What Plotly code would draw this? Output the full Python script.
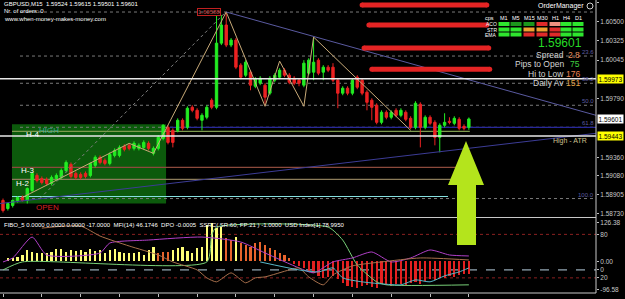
import plotly.graph_objects as go

W, H = 625, 299
FONT = "Liberation Sans, Arial, sans-serif"
BULL = "#22ec22"
BEAR = "#ec2222"

# ---------------- candles (GBPUSD, M15) ----------------
candle_open = [1.58849, 1.58775, 1.58803, 1.58849, 1.58877, 1.58849, 1.58941, 1.59080, 1.59052, 1.59043,
               1.59006, 1.59052, 1.59062, 1.59126, 1.59182, 1.59099, 1.59089, 1.59099, 1.59080, 1.59173,
               1.59247, 1.59219, 1.59191, 1.59265, 1.59265, 1.59348, 1.59358, 1.59330, 1.59330, 1.59339,
               1.59376, 1.59284, 1.59330, 1.59422, 1.59524, 1.59496, 1.59496, 1.59589, 1.59524, 1.59709,
               1.59681, 1.59589, 1.59617, 1.59774, 1.59709, 1.60301, 1.60468, 1.60283, 1.60329, 1.60098,
               1.60005, 1.60033, 1.59903, 1.59931, 1.59913, 1.59839, 1.59959, 1.59987, 1.60051, 1.60005,
               1.59977, 1.59959, 1.59913, 1.60024, 1.60033, 1.60144, 1.60033, 1.60079, 1.60079, 1.59959,
               1.59839, 1.59885, 1.59839, 1.59987, 1.59959, 1.59848, 1.59774, 1.59728, 1.59570, 1.59663,
               1.59617, 1.59681, 1.59635, 1.59663, 1.59607, 1.59524, 1.59737, 1.59524, 1.59617, 1.59570,
               1.59432, 1.59543, 1.59580, 1.59561, 1.59598, 1.59533, 1.59524]
candle_high = [1.58867, 1.58830, 1.58858, 1.58886, 1.58895, 1.58969, 1.59108, 1.59099, 1.59071, 1.59062,
               1.59080, 1.59099, 1.59145, 1.59219, 1.59200, 1.59117, 1.59108, 1.59117, 1.59200, 1.59265,
               1.59265, 1.59237, 1.59293, 1.59330, 1.59358, 1.59367, 1.59376, 1.59395, 1.59376, 1.59404,
               1.59395, 1.59348, 1.59450, 1.59552, 1.59543, 1.59515, 1.59607, 1.59607, 1.59718, 1.59728,
               1.59700, 1.59654, 1.59728, 1.59792, 1.60560, 1.60560, 1.60588, 1.60348, 1.60348, 1.60116,
               1.60144, 1.60051, 1.59987, 1.59996, 1.59931, 1.59996, 1.60024, 1.60070, 1.60070, 1.60024,
               1.59996, 1.59977, 1.60144, 1.60162, 1.60357, 1.60162, 1.60098, 1.60098, 1.60116, 1.59977,
               1.59903, 1.59903, 1.59977, 1.60005, 1.59977, 1.59866, 1.59792, 1.59746, 1.59681, 1.59681,
               1.59681, 1.59700, 1.59700, 1.59681, 1.59626, 1.59765, 1.59755, 1.59635, 1.59635, 1.59589,
               1.59561, 1.59654, 1.59617, 1.59626, 1.59617, 1.59552, 1.59615]
candle_low = [1.58738, 1.58756, 1.58784, 1.58830, 1.58840, 1.58821, 1.58923, 1.59015, 1.58997, 1.58988,
              1.58988, 1.59034, 1.59043, 1.59108, 1.59052, 1.59043, 1.59043, 1.59052, 1.59062, 1.59154,
              1.59182, 1.59173, 1.59173, 1.59247, 1.59247, 1.59302, 1.59311, 1.59311, 1.59311, 1.59321,
              1.59311, 1.59265, 1.59311, 1.59404, 1.59367, 1.59339, 1.59478, 1.59496, 1.59506, 1.59663,
              1.59589, 1.59496, 1.59598, 1.59691, 1.59691, 1.60283, 1.60264, 1.60264, 1.60061, 1.59968,
              1.59987, 1.59866, 1.59885, 1.59913, 1.59728, 1.59820, 1.59940, 1.59968, 1.59987, 1.59922,
              1.59913, 1.59903, 1.59894, 1.60005, 1.59959, 1.60005, 1.59959, 1.60033, 1.59940, 1.59700,
              1.59820, 1.59820, 1.59820, 1.59876, 1.59820, 1.59681, 1.59589, 1.59552, 1.59552, 1.59598,
              1.59598, 1.59617, 1.59617, 1.59580, 1.59506, 1.59506, 1.59339, 1.59506, 1.59543, 1.59358,
              1.59293, 1.59524, 1.59552, 1.59543, 1.59496, 1.59496, 1.59501]
candle_close = [1.58756, 1.58821, 1.58849, 1.58877, 1.58849, 1.58960, 1.59099, 1.59034, 1.59015, 1.59006,
                1.59062, 1.59080, 1.59126, 1.59200, 1.59071, 1.59062, 1.59062, 1.59071, 1.59191, 1.59247,
                1.59200, 1.59191, 1.59274, 1.59311, 1.59339, 1.59321, 1.59330, 1.59376, 1.59358, 1.59385,
                1.59330, 1.59330, 1.59432, 1.59543, 1.59385, 1.59385, 1.59589, 1.59515, 1.59700, 1.59681,
                1.59607, 1.59635, 1.59709, 1.59709, 1.60301, 1.60468, 1.60283, 1.60329, 1.60079, 1.59987,
                1.60125, 1.59913, 1.59968, 1.59977, 1.59802, 1.59977, 1.60005, 1.60051, 1.60005, 1.59940,
                1.59931, 1.59931, 1.60116, 1.60144, 1.60125, 1.60024, 1.60079, 1.60051, 1.59959, 1.59839,
                1.59885, 1.59839, 1.59959, 1.59894, 1.59839, 1.59755, 1.59709, 1.59570, 1.59663, 1.59617,
                1.59663, 1.59635, 1.59681, 1.59598, 1.59524, 1.59746, 1.59524, 1.59617, 1.59561, 1.59432,
                1.59543, 1.59570, 1.59570, 1.59607, 1.59515, 1.59515, 1.59601]
candle_idx = list(range(len(candle_open)))

# ---------------- axes labels ----------------
price_range = [1.58692, 1.60699]
x_range = [-0.62, 122.2]
price_tick_vals = [1.60675, 1.60500, 1.60325, 1.60144, 1.59790, 1.59247, 1.59080, 1.58905, 1.58730]
price_tick_text = ["1.60675", "1.60500", "1.60325", "1.60045", "1.59790", "1.59360", "1.59080", "1.58905", "1.58730"]
marked_prices = [1.59973, 1.59601, 1.59443]
marked_bg = ["#ffff00", "#ffffff", "#ffff00"]
time_tick_idx = [0, 8, 16, 24, 32, 40, 48, 56, 64, 72, 80, 88, 96]
time_tick_text = ["18 Jul 2014", "18 Jul 02:00", "18 Jul 04:00", "18 Jul 06:00", "18 Jul 08:00",
                  "18 Jul 10:00", "18 Jul 12:00", "18 Jul 14:00", "18 Jul 16:00", "18 Jul 18:00",
                  "18 Jul 20:00", "18 Jul 22:00", "21 Jul 00:00"]
ind_range = [-96.58, 126.38]
ind_tick_vals = [115, 80, -3, -27, -51, -87]
ind_tick_text = ["126.38", "80", "0.00", "0", "20", "-96.58"]

# ---------------- drawn objects ----------------
fib_high, fib_low = 1.60588, 1.58867
fib_levels = [0.0, 23.6, 38.2, 50.0, 61.8, 100.0]
fib_start_idx = 3.5
fib_diag_idx = [7.6, 45.9]

zigzag_idx = [4, 26, 31, 46, 54, 57, 62, 64, 84]
zigzag_price = [1.58877, 1.59376, 1.59284, 1.60588, 1.59718, 1.60135, 1.59718, 1.60357, 1.59496]

down_trend_idx = [46, 122.2]
down_trend_price = [1.60588, 1.59635]
up_trend_idx = [-0.62, 122.2]
up_trend_price = [1.58821, 1.59469]

session_idx = [1.85, 33.6]
session_high, session_low = 1.59552, 1.58821

white_levels = [1.59973, 1.59443]
level_names = ["HIGH", "H-3", "H-2", "OPEN"]
level_price = [1.59487, 1.59154, 1.59043, 1.58886]
level_end_idx = [96.2, 93.5, 93.5, 91.7]
level_color = ["#7d9a4e", "#8c4a3c", "#8c7c5a", "#86e0e0"]
blue_level_price = 1.59524
blue_level_idx = [34.4, 122.2]

red_bar_price = [1.60653, 1.60468, 1.60255, 1.60061]
red_bar_from = [74.0, 75.4, 74.4, 76.0]
red_bar_to = [99.7, 99.7, 100.1, 100.3]

# ---------------- indicator window ----------------
hist_idx = list(range(1, 97))
hist_vals = [8, 8, 13, 18, 33, 28, 25, 25, 23, 28,
             36, 35, 28, 33, 31, 33, 28, 36, 30, 33,
             25, 33, 36, 28, 25, 25, 23, 28, 18, 33,
             41, 23, 28, 28, 33, 38, 43, 30, 23, 38,
             43, 108, 113, 98, 103, 68, 63, 73, 53, 48,
             43, 53, 58, 48, 38, 33, 23, 18, 8,
             -10, -15, -20, -30, -35, -45, -50, -48, -45, -55,
             -65, -75, -78, -80, -75, -72, -78, -80, -70, -72,
             -75, -70, -68, -72, -65, -62, -70, -60, -55, -58,
             -52, -50, -45, -48, -42, -40, -38]
hist_codes = "Y" * 31 + "OOO" + "Y" * 11 + "OO" + "Y" + "O" * 11 + "R" * 37
hist_palette = {"Y": "#ffff78", "O": "#e8642c", "R": "#e42020"}

green_idx = [0, 4, 42, 43, 44, 67, 70, 73, 77, 79, 96]
green_val = [-27, -3, -3, 78, 102, 102, 63, -12, -63, -72, -72]
magenta_idx = [0, 2, 6, 9, 20, 22, 30, 41, 49, 54, 61, 64, 68, 72, 76, 80, 84, 88, 92, 96]
magenta_val = [-3, 9, 72, 18, 24, 54, 63, 72, 57, 24, -21, -36, -3, 9, 27, -3, 9, 33, 18, 15]
brown_idx = [8, 16, 20, 26, 32, 35, 40, 42, 44, 47, 50, 52, 54, 59, 61, 63, 66, 68, 72, 78, 86, 96]
brown_val = [99, 105, 75, 45, 18, -3, -27, -51, -63, -36, -66, -51, -48, -27, -21, -48, -72, -42, -15, -3, 9, 3]
cyan_idx = [53, 61, 65, 68, 70, 74, 78, 82, 85, 88, 91, 94, 96]
cyan_val = [-3, -27, -33, -21, -51, -63, -69, -72, -57, -63, -45, -33, -21]

# ---------------- order manager panel ----------------
tf_cols = ["M1", "M5", "M15", "M30", "H1", "H4", "D1"]
sig_rows = ["ACO", "STR", "EMA"]
sig_cells = [["G", "g", "g", "R", "P", "G", "G"],
             ["G", "G", "O", "O", "R", "G", "G"],
             ["G", "G", "R", "R", "R", "G", "G"]]
sig_palette = {"G": "#2ee62e", "g": "#1c961c", "R": "#e02a2a", "P": "#f09080", "O": "#f0a030"}
bid_text = "1.59601"
info_labels = ["Spread", "Pips to Open", "Hi to Low", "Daily Av"]
info_values = ["2.8", "75", "176", "151"]
info_colors = ["#e89060", "#40d040", "#e88050", "#e0a040"]


def px(x):
    return x / W


def py(y):
    return 1 - y / H


fig = go.Figure()

fig.add_trace(go.Candlestick(
    x=candle_idx, open=candle_open, high=candle_high, low=candle_low, close=candle_close,
    increasing=dict(line=dict(color=BULL, width=1), fillcolor=BULL),
    decreasing=dict(line=dict(color=BEAR, width=1), fillcolor=BEAR),
    whiskerwidth=0, hoverinfo="skip", xaxis="x", yaxis="y"))

# zigzag and trend lines
fig.add_trace(go.Scatter(x=zigzag_idx, y=zigzag_price, mode="lines",
                         line=dict(color="#c8aa78", width=1), yaxis="y", hoverinfo="skip"))
fig.add_trace(go.Scatter(x=down_trend_idx, y=down_trend_price, mode="lines",
                         line=dict(color="#5a5aa0", width=1), yaxis="y", hoverinfo="skip"))
fig.add_trace(go.Scatter(x=up_trend_idx, y=up_trend_price, mode="lines",
                         line=dict(color="#3c3c96", width=1), yaxis="y", hoverinfo="skip"))
fig.add_trace(go.Scatter(x=fib_diag_idx, y=[fib_low, fib_high], mode="lines",
                         line=dict(color="#808080", width=1, dash="dot"), yaxis="y", hoverinfo="skip"))

# thick red bars
for p, a, b in zip(red_bar_price, red_bar_from, red_bar_to):
    fig.add_trace(go.Scatter(x=[a, b], y=[p, p], mode="lines+markers",
                             line=dict(color="#e42424", width=5),
                             marker=dict(color="#e42424", size=5), yaxis="y", hoverinfo="skip"))

# indicator histogram and lines
fig.add_trace(go.Bar(x=hist_idx, y=hist_vals, width=0.45,
                     marker=dict(color=[hist_palette[c] for c in hist_codes], line_width=0),
                     yaxis="y2", hoverinfo="skip"))
for xs, ys, col in [(green_idx, green_val, "#78d078"), (magenta_idx, magenta_val, "#b040c8"),
                    (brown_idx, brown_val, "#a8704c"), (cyan_idx, cyan_val, "#58b8c8")]:
    fig.add_trace(go.Scatter(x=xs, y=ys, mode="lines", line=dict(color=col, width=1, shape="spline", smoothing=0.6),
                             yaxis="y2", hoverinfo="skip"))

shapes = []
# session box
shapes.append(dict(type="rect", xref="x", yref="y", x0=session_idx[0], x1=session_idx[1],
                   y0=session_low, y1=session_high, fillcolor="#0c5a0c", line_width=0, layer="below"))
# fib dotted levels
for lev in fib_levels:
    p = fib_high - (fib_high - fib_low) * lev / 100
    shapes.append(dict(type="line", xref="x", yref="y", x0=fib_start_idx, x1=x_range[1], y0=p, y1=p,
                       line=dict(color="#7a7a7a", width=1, dash="dot"), layer="below"))
# pivot levels
for p, e, c in zip(level_price, level_end_idx, level_color):
    shapes.append(dict(type="line", xref="x", yref="y", x0=session_idx[0], x1=e, y0=p, y1=p,
                       line=dict(color=c, width=1.2), layer="below"))
shapes.append(dict(type="line", xref="x", yref="y", x0=blue_level_idx[0], x1=blue_level_idx[1],
                   y0=blue_level_price, y1=blue_level_price, line=dict(color="#28289a", width=1.2), layer="below"))
for p in white_levels:
    shapes.append(dict(type="line", xref="x", yref="y", x0=x_range[0], x1=x_range[1], y0=p, y1=p,
                       line=dict(color="#e8e8e8", width=1.5)))
# indicator levels
for v, c, d in [(80, "#8a2020", "dot"), (-51, "#8a2020", "dot"), (-27, "#b8d0e0", "dash")]:
    shapes.append(dict(type="line", xref="x", yref="y2", x0=x_range[0], x1=x_range[1], y0=v, y1=v,
                       line=dict(color=c, width=1, dash=d), layer="below"))
# frame
shapes.append(dict(type="line", xref="paper", yref="paper", x0=px(596), x1=px(596), y0=py(293), y1=1,
                   line=dict(color="#c8c8c8", width=1)))
for yy in [217.5, 293]:
    shapes.append(dict(type="line", xref="paper", yref="paper", x0=0, x1=px(596), y0=py(yy), y1=py(yy),
                       line=dict(color="#c8c8c8", width=1)))
# big arrow
arrow = [(466, 141), (484, 185), (476, 185), (476, 245), (457, 245), (457, 185), (448, 185)]
path = "M " + " L ".join(f"{px(a):.4f},{py(b):.4f}" for a, b in arrow) + " Z"
shapes.append(dict(type="path", xref="paper", yref="paper", path=path, fillcolor="#b4e41c", line_width=0))
# signal table cells
col_x = [504, 516, 529, 542, 555, 566, 578]
row_y = [24, 29.5, 34.5]
for r, row in enumerate(sig_cells):
    for c, code in enumerate(row):
        shapes.append(dict(type="rect", xref="paper", yref="paper",
                           x0=px(col_x[c] - 5.5), x1=px(col_x[c] + 5.5),
                           y0=py(row_y[r] + 2), y1=py(row_y[r] - 2),
                           fillcolor=sig_palette[code], line_width=0))
# order manager icon
shapes.append(dict(type="circle", xref="paper", yref="paper", x0=px(587), x1=px(593), y0=py(9), y1=py(3),
                   line=dict(color="#d0d0d0", width=1)))

ann = []


def text(t, x, y, size=6, color="#ffffff", xanchor="left", yanchor="middle", xref="paper", yref="paper", **kw):
    ann.append(dict(text=t, x=px(x) if xref == "paper" else x, y=py(y) if yref == "paper" else y,
                    xref=xref, yref=yref, xanchor=xanchor, yanchor=yanchor, showarrow=False,
                    font=dict(family=FONT, size=size, color=color), borderpad=0, **kw))


NB = "\u00a0"
text("GBPUSD,M15" + NB * 2 + "1.59524 1.59615 1.59501 1.59601", 3, 4.5)
text("Nr. of orders: 0", 3, 11.5)
text("www.when-money-makes-money.com", 3, 19)
text("FIBO_5 0.0000 0.0000 0.0000 -17.0000" + NB * 2 + "MFI(14) 46.1746" + NB * 2 + "DPO -0.0005" + NB * 2 +
     "SSRC( SR:60, FP:21 ) -1.0000" + NB * 2 + "USD Index[1] 78.9950", 3, 224.5)

# fib labels
for lev in fib_levels[1:]:
    p = fib_high - (fib_high - fib_low) * lev / 100
    ann.append(dict(text=f"{lev:.1f}", x=px(595), y=p, xref="paper", yref="y", xanchor="right", yanchor="bottom",
                    showarrow=False, font=dict(family=FONT, size=6, color="#5c5ca0"), borderpad=0))

# level labels
text("HIGH", 38, 131, size=8, color="#3aa898")
text("H-4", 25, 134.5, size=8)
text("H-3", 20, 171, size=8)
text("H-2", 15, 183, size=8)
text("OPEN", 35, 207.5, size=8, color="#d82020")
text("High - ATR", 588, 141, size=7, color="#d0c090", xanchor="right")
text("1.60588", 209, 12, size=6, color="#d04040", xanchor="center", bordercolor="#c02020", borderwidth=1)

# panel
text("OrderManager", 585, 6, size=7, xanchor="right")
text("cps", 489, 18.5, size=5.5, xanchor="center")
for c, name in enumerate(tf_cols):
    text(name, col_x[c], 18.5, size=5.5, xanchor="center")
for r, name in enumerate(sig_rows):
    text(name, 498, row_y[r], size=5, xanchor="right")
text(bid_text, 583, 42.5, size=12, color="#26dc26", xanchor="right")
for k, (lab, val, col) in enumerate(zip(info_labels, info_values, info_colors)):
    yy = 55 + k * 9.4
    text(lab, 565, yy, size=8.5, color="#d4d4d4", xanchor="right")
    text(val, 581, yy, size=8.5, color=col, xanchor="right")

# price markers on the axis
for p, bg in zip(marked_prices, marked_bg):
    ann.append(dict(text=f"{p:.5f}", x=px(597), y=p, xref="paper", yref="y", xanchor="left", yanchor="middle",
                    showarrow=False, bgcolor=bg, font=dict(family=FONT, size=6.5, color="#000000"), borderpad=0.5))

axis_font = dict(family=FONT, size=6.5, color="#c8c8c8")
fig.update_layout(
    width=W, height=H, margin=dict(l=0, r=0, t=0, b=0, pad=0, autoexpand=False),
    paper_bgcolor="#000000", plot_bgcolor="#000000", showlegend=False,
    boxgap=0.3, bargap=0,
    xaxis=dict(domain=[0, px(596)], range=x_range, anchor="y2", showgrid=False, zeroline=False,
               showline=False, rangeslider=dict(visible=False), tickmode="array", automargin=False,
               tickvals=time_tick_idx, ticktext=time_tick_text, ticks="outside", ticklen=3,
               tickcolor="#c0c0c0", tickfont=axis_font, ticklabelshift=19, ticklabelstandoff=0),
    yaxis=dict(domain=[py(217.5), 1], range=price_range, side="right", anchor="x", showgrid=False,
               zeroline=False, showline=False, tickmode="array", tickvals=price_tick_vals, automargin=False,
               ticktext=price_tick_text, ticks="outside", ticklen=2, tickcolor="#c0c0c0", tickfont=axis_font),
    yaxis2=dict(domain=[py(293), py(219)], range=ind_range, side="right", anchor="x", showgrid=False,
                zeroline=False, showline=False, tickmode="array", tickvals=ind_tick_vals, automargin=False,
                ticktext=ind_tick_text, ticks="outside", ticklen=2, tickcolor="#c0c0c0", tickfont=axis_font),
    shapes=shapes, annotations=ann,
)

fig.write_html("out.html")
